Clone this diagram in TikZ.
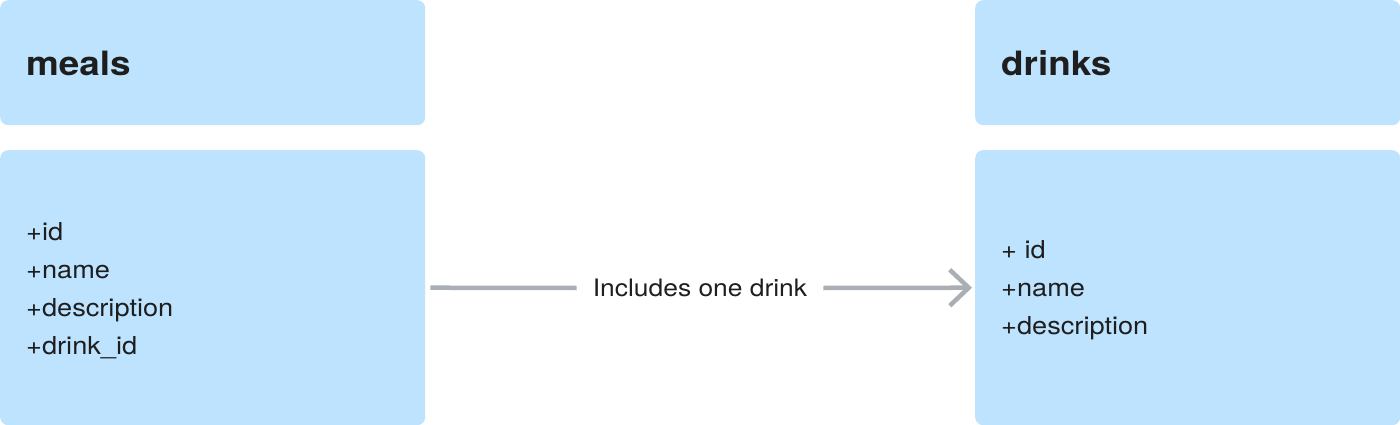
\documentclass[tikz,border=0pt]{standalone}
\usepackage{fontspec}
\setmainfont{TeX Gyre Heros}[FakeStretch=1.1]
\usetikzlibrary{arrows.meta}
\definecolor{boxfill}{HTML}{BDE3FF}
\definecolor{conncol}{HTML}{A9AFB5}
\definecolor{txt}{HTML}{1E1E1E}
\begin{document}
\begin{tikzpicture}[x=1pt,y=-1pt,
  tbl/.style={fill=boxfill, rounded corners=8pt, inner sep=0pt, minimum width=425pt, anchor=north west},
  hdr/.style={tbl, minimum height=125pt},
  bdy/.style={tbl, minimum height=275pt},
  title/.style={anchor=west, inner sep=0pt, text=txt, font=\fontsize{33.5}{40}\selectfont\bfseries},
  fields/.style={anchor=west, inner sep=0pt, align=left, text=txt, font=\fontsize{24.7}{37.9}\selectfont},
  conn/.style={draw=conncol, line width=4.5pt},
  lbl/.style={inner xsep=16pt, inner ysep=0pt, text=txt, font=\fontsize{24}{28}\selectfont}
]
\useasboundingbox (0,0) rectangle (1400,425);
\node[hdr] (mealshdr) at (0,0) {};
\node[bdy] (mealsbody) at (0,150) {};
\node[hdr] (drinkshdr) at (975,0) {};
\node[bdy] (drinksbody) at (975,150) {};
\node[title] (mealstitle) at (26,63) {meals};
\node[title] (drinkstitle) at (1001,63) {drinks};
\node[fields] (mealsfields) at (26,290.5) {+id\\+name\\+description\\+drink\_id};
\node[fields] (drinksfields) at (1001,290.5) {+ id\\+name\\+description};
\node[lbl] (rel) at (700,288) {Includes one drink};
\draw[conn, shorten <=5pt] (mealsbody.east) -- (rel.west);
\draw[conn, shorten >=3pt, -{Straight Barb[length=19pt,width=36pt]}] (rel.east) -- (drinksbody.west);
\end{tikzpicture}
\end{document}
